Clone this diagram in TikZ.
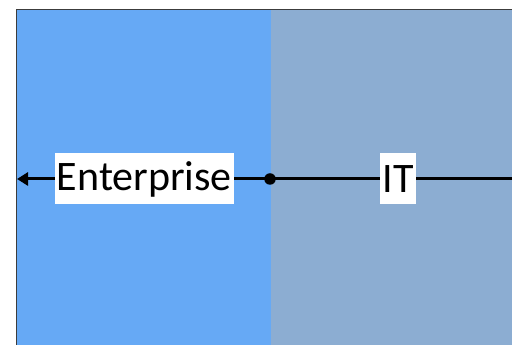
\documentclass[tikz,border=0pt]{standalone}
\usepackage{fontspec}
\setmainfont{Carlito}
\usetikzlibrary{arrows.meta}

\definecolor{entblue}{RGB}{102,169,245}
\definecolor{itblue}{RGB}{140,173,210}
\definecolor{rim}{RGB}{60,60,60}

\begin{document}
\begin{tikzpicture}[
  x=1pt,y=1pt,
  panel/.style={line width=0pt,draw=none},
  edge/.style={draw=rim,line width=1.5pt},
  axis/.style={line width=3pt,draw=black},
  lbl/.style={fill=white,inner xsep=2pt,inner ysep=0pt,minimum height=51pt,
    font=\fontsize{42}{46}\selectfont,text=black},
  hubdot/.style={circle,fill=black,inner sep=0pt,minimum size=11.5pt}
]
\useasboundingbox (0,0) rectangle (512,345);

% ---- panels ----
\fill[panel,entblue] (16.5,0) rectangle (271,335.5);
\fill[panel,itblue] (271,0) rectangle (512,335.5);
\draw[edge] (16.5,0) -- (16.5,335.5) -- (512,335.5);

% ---- axis ----
\coordinate (hub) at (270,166);
\coordinate (lend) at (17,166);
\coordinate (rend) at (512,166);
\draw[axis,-{Triangle[length=11pt,width=13pt]}] (hub) -- (lend);
\draw[axis] (hub) -- (rend);

% ---- labels ----
\node[lbl] (ent) at (144.4,166) {Enterprise};
\node[lbl] (it) at (398,166) {IT};
\node[hubdot] (dot) at (hub) {};

\end{tikzpicture}
\end{document}
